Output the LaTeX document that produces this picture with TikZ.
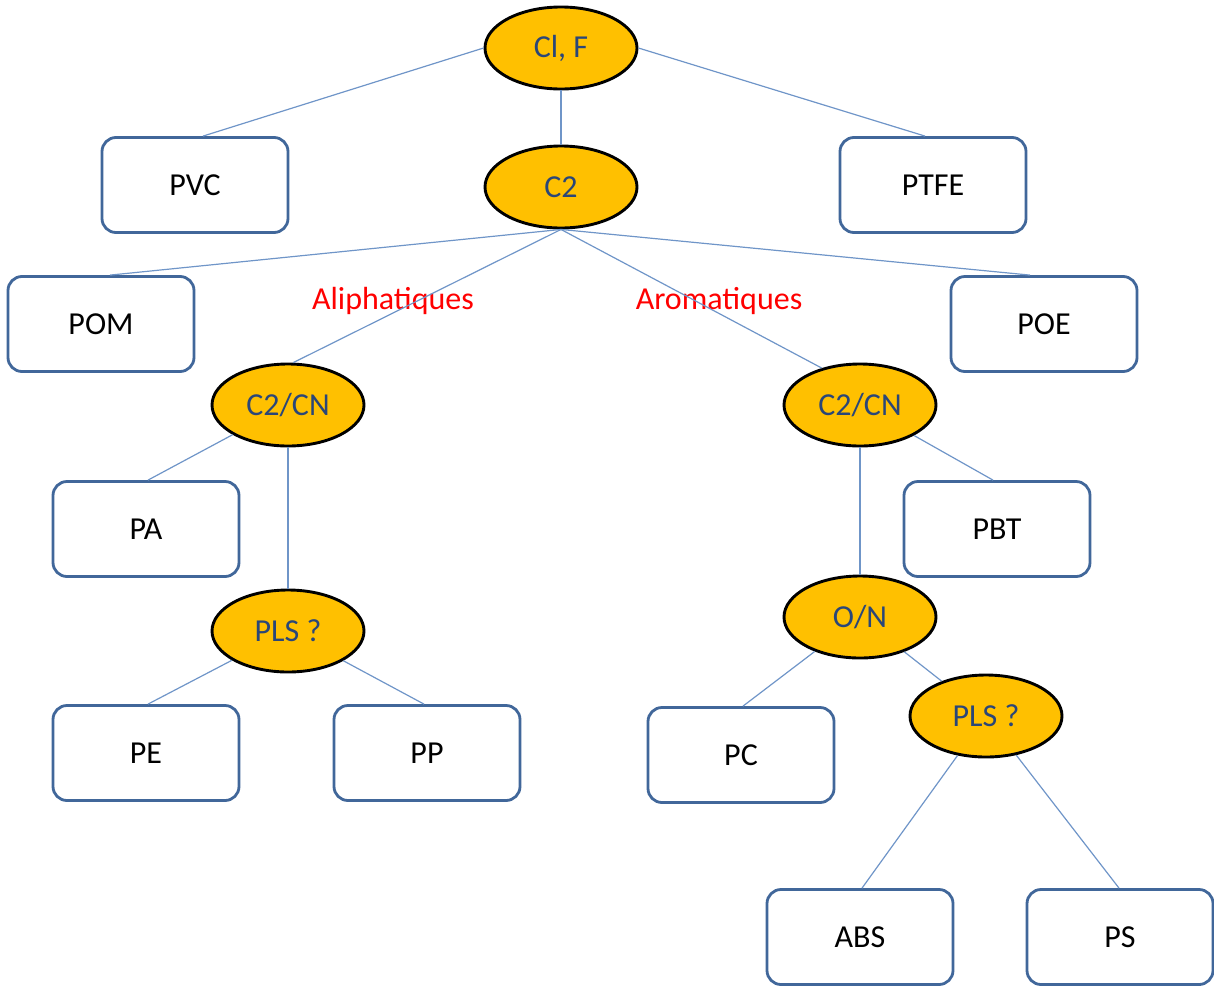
\documentclass[tikz,border=0pt]{standalone}
\usepackage{fontspec}
\setmainfont{Carlito}
\usetikzlibrary{shapes.geometric}

\definecolor{nodefill}{HTML}{FFC000}
\definecolor{nodetext}{HTML}{2A4678}
\definecolor{boxline}{HTML}{41679A}
\definecolor{linkline}{HTML}{6F95C8}

\begin{document}
\begin{tikzpicture}[x=1pt, y=-1pt,
    every node/.style={font=\fontsize{32}{36}\selectfont},
    crit/.style={ellipse, draw=black, line width=2.9pt, fill=nodefill, text=nodetext,
        minimum width=152pt, minimum height=82pt, inner sep=0pt},
    famille/.style={rectangle, rounded corners=14pt, draw=boxline, line width=2.8pt,
        minimum width=186pt, minimum height=95pt, inner sep=0pt},
    lien/.style={draw=linkline, line width=1.2pt},
    branche/.style={text=red}]

    \useasboundingbox (0,0) rectangle (1214,988);

    % Criteria (ellipses)
    \node[crit] (clf)   at (561,48)  {Cl, F};
    \node[crit] (c2)    at (561,187) {C2};
    \node[crit] (cnal)  at (288,405) {C2/CN};
    \node[crit] (cnar)  at (860,405) {C2/CN};
    \node[crit] (plsal) at (288,631) {PLS ?};
    \node[crit] (on)    at (860,617) {O/N};
    \node[crit] (plsar) at (986,716) {PLS ?};

    % Polymers (boxes)
    \node[famille] (pvc)  at (195,185) {PVC};
    \node[famille] (ptfe) at (933,185) {PTFE};
    \node[famille] (pom)  at (101,324) {POM};
    \node[famille] (poe)  at (1044,324) {POE};
    \node[famille] (pa)   at (146,529) {PA};
    \node[famille] (pbt)  at (997,529) {PBT};
    \node[famille] (pe)   at (146,753) {PE};
    \node[famille] (pp)   at (427,753) {PP};
    \node[famille] (pc)   at (741,755) {PC};
    \node[famille] (abs)  at (860,937) {ABS};
    \node[famille] (ps)   at (1120,937) {PS};

    % Branch labels
    \node[branche] (aliph) at (393,301) {Aliphatiques};
    \node[branche] (arom)  at (719,301) {Aromatiques};

    % Links
    \path[lien] (clf.west) -- ([xshift=8pt]pvc.north);
    \path[lien] (clf.east) -- ([xshift=-8pt]ptfe.north);
    \path[lien] (clf) -- (c2);

    \path[lien] (c2.south) -- ([xshift=9pt]pom.north);
    \path[lien] (c2.south) -- ([xshift=-14pt]poe.north);
    \path[lien] (c2.south) -- (cnal.83);
    \path[lien] (c2.south) -- (cnar.136);

    \path[lien] (cnal) -- ([xshift=2pt]pa.north);
    \path[lien] (cnal) -- (plsal);
    \path[lien] (plsal) -- ([xshift=2pt]pe.north);
    \path[lien] (plsal) -- ([xshift=-3pt]pp.north);

    \path[lien] (cnar) -- (on);
    \path[lien] (cnar) -- ([xshift=-4pt]pbt.north);
    \path[lien] (on) -- ([xshift=2pt]pc.north);
    \path[lien] (on) -- (plsar);
    \path[lien] (plsar) -- ([xshift=2pt]abs.north);
    \path[lien] (plsar) -- ([xshift=-1pt]ps.north);

\end{tikzpicture}
\end{document}
